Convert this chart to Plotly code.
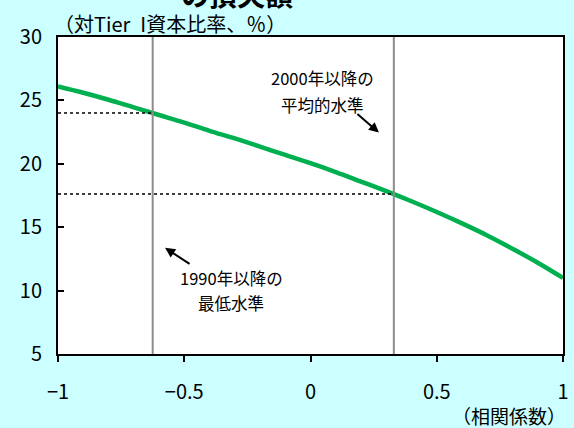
import numpy as np
import plotly.graph_objects as go

# Correlation coefficient vs. required capital (% of Tier I)
corr = [-1.0, -0.9, -0.8, -0.7, -0.6, -0.5, -0.4, -0.3, -0.2, -0.1, 0.0,
        0.1, 0.2, 0.3, 0.4, 0.5, 0.6, 0.7, 0.8, 0.9, 1.0]
ratio = [26.1, 25.6, 25.05, 24.45, 23.85, 23.25, 22.6, 22.0, 21.35, 20.7, 20.05,
         19.35, 18.6, 17.85, 17.05, 16.2, 15.3, 14.35, 13.3, 12.2, 11.0]

# Reference correlation levels
min_corr_1990 = -0.625   # 1990年以降の最低水準
avg_corr_2000 = 0.33     # 2000年以降の平均的水準

x_ticks = [-1, -0.5, 0, 0.5, 1]
x_ticklabels = ["−1", "−0.5", "0", "0.5", "1"]
y_ticks = [5, 10, 15, 20, 25, 30]

jp = "Noto Sans CJK JP"

fig = go.Figure()

fig.add_trace(go.Scatter(
    x=corr, y=ratio, mode="lines",
    line=dict(color="#00B050", width=4.5, shape="spline"),
    hoverinfo="skip", showlegend=False,
))

# Horizontal dotted guides at the curve level for each reference correlation
for c in (min_corr_1990, avg_corr_2000):
    level = float(np.interp(c, corr, ratio))
    fig.add_shape(type="line", xref="x", yref="y",
                  x0=-1, x1=c, y0=level, y1=level,
                  line=dict(color="black", width=1.5, dash="dot"))
    fig.add_shape(type="line", xref="x", yref="paper",
                  x0=c, x1=c, y0=0, y1=1,
                  line=dict(color="#8C8C8C", width=2))


def note(x, y, text):
    fig.add_annotation(x=x, y=y, text=text, showarrow=False,
                       font=dict(family=jp, size=16.5, color="black"))


# 2000年以降の平均的水準
fig.add_annotation(
    x=0.271, y=22.46,
    ax=-23, ay=-20, axref="pixel", ayref="pixel",
    text="", showarrow=True, arrowhead=2, arrowsize=1, arrowwidth=2,
    arrowcolor="black")
note(0.047, 26.8, "2000年以降の")
note(0.047, 24.67, "平均的水準")

# 1990年以降の最低水準
fig.add_annotation(
    x=-0.576, y=13.37,
    ax=26, ay=17, axref="pixel", ayref="pixel",
    text="", showarrow=True, arrowhead=2, arrowsize=1, arrowwidth=2,
    arrowcolor="black")
note(-0.313, 11.0, "1990年以降の")
note(-0.313, 9.03, "最低水準")

# Axis captions
fig.add_annotation(
    xref="paper", yref="paper", x=0.0, y=1.0, xanchor="left", yanchor="bottom",
    text="（対Tier\u2002I資本比率、％）", showarrow=False,
    font=dict(family=jp, size=20, color="black"), yshift=-3, xshift=-6)
fig.add_annotation(
    xref="paper", yref="paper", x=1.0, y=0, xanchor="right", yanchor="top",
    text="（相関係数）", showarrow=False,
    font=dict(family=jp, size=19, color="black"), yshift=-46, xshift=5)

# Title (runs off the top edge)
fig.add_annotation(
    xref="paper", yref="paper", x=0.355, y=1.0, xanchor="center", yanchor="bottom",
    text="<b>の損失額</b>", showarrow=False,
    font=dict(family=jp, size=28, color="black"), yshift=21)

fig.update_xaxes(
    range=[-1, 1], tickvals=x_ticks, ticktext=x_ticklabels,
    showgrid=False, zeroline=False,
    showline=True, linecolor="black", linewidth=2, mirror=True,
    ticks="outside", ticklen=6, tickwidth=2, tickcolor="black",
    ticklabelstandoff=13,
    tickfont=dict(family=jp, size=20, color="black"),
)
fig.update_yaxes(
    range=[5, 30], tickvals=y_ticks,
    showgrid=False, zeroline=False,
    showline=True, linecolor="black", linewidth=2, mirror=True,
    ticks="inside", ticklen=6, tickwidth=2, tickcolor="black",
    ticklabelstandoff=10,
    tickfont=dict(family=jp, size=20, color="black"),
)

fig.update_layout(
    width=574, height=428,
    margin=dict(l=58, r=5, t=37, b=74),
    paper_bgcolor="#CCFFFF", plot_bgcolor="white",
    showlegend=False,
)

fig.write_html("out.html")
